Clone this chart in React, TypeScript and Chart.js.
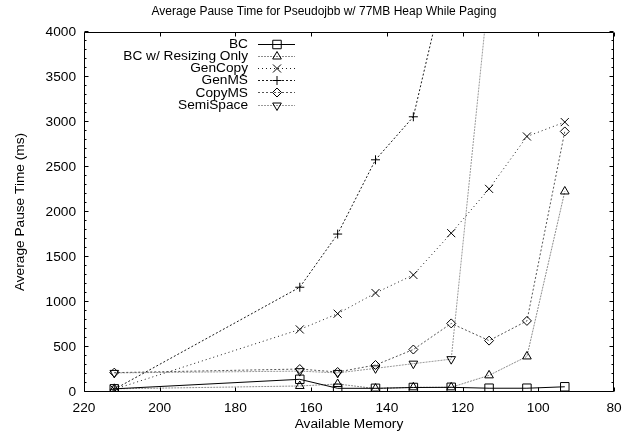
import { useEffect, useRef } from 'react';
import { Chart, registerables } from 'chart.js';

Chart.register(...registerables);

// ---- data ----
const memory = [212, 163, 153, 143, 133, 123, 113, 103, 93];
const bc = [35, 141, 41, 41, 50, 52, 42, 42, 58];
const bcResizing = [35, 67, 89, 38, 52, 52, 185, 395, 2228];
const genCopy = [30, 695, 870, 1100, 1301, 1765, 2257, 2839, 2999];
const genMS = [30, 1164, 1755, 2580, 3058, 4850, null, null, null];
const copyMS = [215, 255, 222, 300, 472, 762, 571, 790, 2895];
const semiSpace = [212, 232, 212, 263, 315, 365, 4500, null, null];
const seriesNames = ['BC', 'BC w/ Resizing Only', 'GenCopy', 'GenMS', 'CopyMS', 'SemiSpace'];
const titleText = 'Average Pause Time for Pseudojbb w/ 77MB Heap While Paging';
const xTitle = 'Available Memory';
const yTitle = 'Average Pause Time (ms)';

const FONT = '"Liberation Sans", Arial, Helvetica, sans-serif';
const FS = 13.7;
const TITLE_FS = 12;

const styles = [
  { color: '#000000', dash: [] as number[], point: 'rect', radius: 6, rotation: 0 },
  { color: '#8c8c8c', dash: [2, 1], point: 'triangle', radius: 5, rotation: 0 },
  { color: '#1a1a1a', dash: [1, 3], point: 'crossRot', radius: 5.7, rotation: 0 },
  { color: '#1a1a1a', dash: [2, 2], point: 'cross', radius: 4.5, rotation: 0 },
  { color: '#555555', dash: [2, 2], point: 'rectRot', radius: 4.5, rotation: 0 },
  { color: '#9a9a9a', dash: [2, 1], point: 'triangle', radius: 5, rotation: 180 },
];

const seriesValues = [bc, bcResizing, genCopy, genMS, copyMS, semiSpace];

function drawMarker(ctx: CanvasRenderingContext2D, style: string, r: number, rot: number, x: number, y: number) {
  ctx.beginPath();
  if (style === 'rect') {
    const s = r * Math.SQRT1_2;
    ctx.rect(x - s, y - s, 2 * s, 2 * s);
  } else if (style === 'triangle') {
    const a0 = (rot * Math.PI) / 180;
    for (let k = 0; k < 3; k++) {
      const a = a0 + (k * 2 * Math.PI) / 3;
      const px = x + Math.sin(a) * r;
      const py = y - Math.cos(a) * r;
      if (k === 0) ctx.moveTo(px, py);
      else ctx.lineTo(px, py);
    }
    ctx.closePath();
  } else if (style === 'crossRot') {
    const s = r * Math.SQRT1_2;
    ctx.moveTo(x - s, y - s); ctx.lineTo(x + s, y + s);
    ctx.moveTo(x - s, y + s); ctx.lineTo(x + s, y - s);
  } else if (style === 'cross') {
    ctx.moveTo(x - r, y); ctx.lineTo(x + r, y);
    ctx.moveTo(x, y - r); ctx.lineTo(x, y + r);
  } else if (style === 'rectRot') {
    ctx.moveTo(x, y - r); ctx.lineTo(x + r, y); ctx.lineTo(x, y + r); ctx.lineTo(x - r, y);
    ctx.closePath();
  }
  ctx.stroke();
}

const framePlugin = {
  id: 'gnuframe',
  afterDraw(chart: any) {
    const { ctx, chartArea, scales } = chart;
    const { left, right, top, bottom } = chartArea;
    const xs = scales.x;
    const ys = scales.y;
    ctx.save();
    ctx.strokeStyle = '#000';
    ctx.lineWidth = 1;
    ctx.setLineDash([]);
    const L = Math.round(left) + 0.5;
    const R = Math.round(right) - 0.5;
    const T = Math.round(top) + 0.5;
    const B = Math.round(bottom) - 0.5;
    ctx.beginPath();
    ctx.rect(L, T, R - L, B - T);
    ctx.stroke();
    ctx.beginPath();
    for (let v = 0; v <= 4000; v += 100) {
      const py = Math.round(ys.getPixelForValue(v)) - 0.5;
      const len = v % 500 === 0 ? 4 : 2;
      ctx.moveTo(L, py); ctx.lineTo(L + len, py);
      ctx.moveTo(R, py); ctx.lineTo(R - len, py);
    }
    for (let v = 80; v <= 220; v += 20) {
      const px = Math.round(xs.getPixelForValue(v)) + 0.5;
      ctx.moveTo(px, B); ctx.lineTo(px, B - 4);
      ctx.moveTo(px, T); ctx.lineTo(px, T + 4);
    }
    ctx.stroke();

    // title
    ctx.fillStyle = '#000';
    ctx.font = `${TITLE_FS}px ${FONT}`;
    ctx.textAlign = 'center';
    ctx.textBaseline = 'middle';
    ctx.fillText(titleText, 324, 12);

    // legend
    ctx.font = `${FS}px ${FONT}`;
    for (let i = 0; i < seriesNames.length; i++) {
      const st = styles[i];
      const y = 43.5 + i * 12.2;
      ctx.textAlign = 'right';
      ctx.fillStyle = '#000';
      ctx.fillText(seriesNames[i], 248, y + 0.5);
      ctx.strokeStyle = st.color;
      ctx.setLineDash(st.dash);
      ctx.beginPath();
      ctx.moveTo(258, Math.round(y) + 0.5);
      ctx.lineTo(295, Math.round(y) + 0.5);
      ctx.stroke();
      ctx.setLineDash([]);
      ctx.strokeStyle = '#000';
      drawMarker(ctx, st.point, st.radius, st.rotation, 277, Math.round(y) + 0.5);
    }
    ctx.restore();
  },
};

export default function App() {
  const ref = useRef<HTMLCanvasElement | null>(null);
  useEffect(() => {
    if (!ref.current) return;
    const datasets = seriesNames.map((name, i) => ({
      label: name,
      data: memory.map((m, j) => ({ x: m, y: seriesValues[i][j] })),
      borderColor: styles[i].color,
      borderDash: styles[i].dash,
      borderWidth: 1,
      backgroundColor: 'transparent',
      pointStyle: styles[i].point as any,
      pointRadius: styles[i].radius,
      pointRotation: styles[i].rotation,
      pointBorderColor: '#000',
      pointBackgroundColor: 'transparent',
      pointBorderWidth: 1,
      fill: false,
      tension: 0,
      spanGaps: false,
    }));
    const chart = new Chart(ref.current, {
      type: 'line',
      data: { datasets },
      options: {
        animation: false,
        responsive: false,
        devicePixelRatio: 1,
        layout: { padding: { top: 32, right: 17, left: 0, bottom: 0 } },
        plugins: { legend: { display: false }, title: { display: false }, tooltip: { enabled: false } },
        scales: {
          x: {
            type: 'linear',
            reverse: true,
            min: 80,
            max: 220,
            grid: { display: false, drawTicks: false },
            border: { display: false },
            ticks: { stepSize: 20, color: '#000', font: { family: FONT, size: FS }, padding: 8, maxRotation: 0, callback: (v: any) => String(v) },
            title: { display: true, text: xTitle, color: '#000', font: { family: FONT, size: FS }, padding: { top: 0, bottom: 4 } },
            afterFit: (s: any) => { s.height = 44; },
          },
          y: {
            type: 'linear',
            min: 0,
            max: 4000,
            grid: { display: false, drawTicks: false },
            border: { display: false },
            ticks: { stepSize: 500, color: '#000', font: { family: FONT, size: FS }, padding: 8, callback: (v: any) => String(v) },
            title: { display: true, text: yTitle, color: '#000', font: { family: FONT, size: FS }, padding: { top: 12, bottom: 0 } },
            afterFit: (s: any) => { s.width = 84; },
          },
        },
      },
      plugins: [framePlugin],
    });
    return () => chart.destroy();
  }, []);
  return (
    <div style={{ position: 'absolute', left: 0, top: 0, width: 631, height: 436, background: '#fff' }}>
      <canvas ref={ref} width={631} height={436} style={{ width: 631, height: 436 }} />
    </div>
  );
}
